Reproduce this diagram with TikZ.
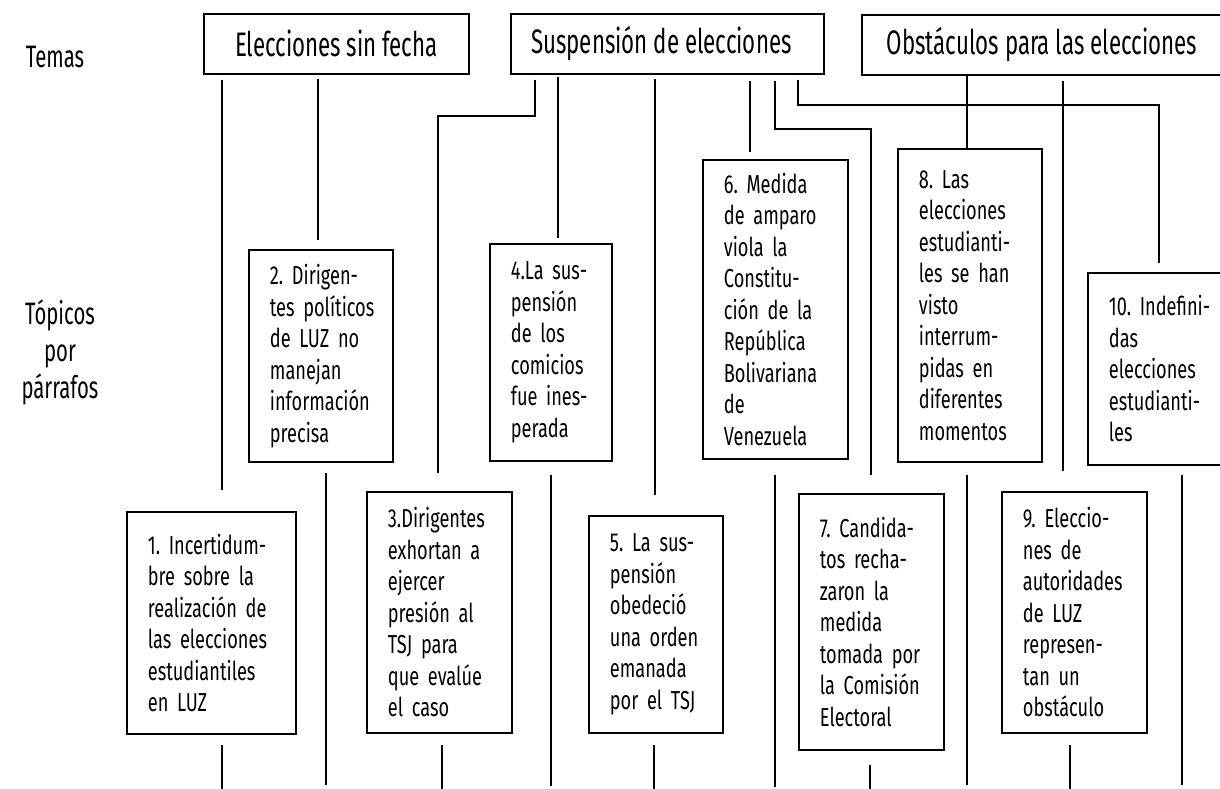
\documentclass[tikz,border=0pt]{standalone}
\usepackage{fontspec}
\setmainfont{Fira Sans}[FakeStretch=0.7]
\newfontfamily\themefont{Fira Sans}[FakeStretch=0.655]
\begin{document}
\begin{tikzpicture}[x=1pt,y=-1pt,
  conn/.style={line width=1.4pt},
  topicbox/.style={draw,line width=1.8pt,anchor=north west,inner xsep=21pt,inner ysep=0pt,
    align=left,font=\frenchspacing\fontsize{26}{31.5}\selectfont},
  themebox/.style={draw,line width=1.8pt,anchor=north west,inner sep=0pt,align=center,
    font=\themefont\fontsize{34}{36}\selectfont},
  sidelabel/.style={align=center,font=\themefont\fontsize{31}{37}\selectfont}]
\useasboundingbox (0,0) rectangle (1220,789);
\clip (0,0) rectangle (1220,789);
% side labels
\node[sidelabel] (temas) at (55,57) {Temas};
\node[sidelabel] (topicos) at (60,352) {Tópicos\\por\\párrafos};
% theme boxes
\node[themebox,minimum width=265pt,minimum height=60pt] (T1) at (203,13) {Elecciones sin fecha};
\node[themebox,minimum width=313pt,minimum height=60pt] (T2) at (510,13) {Suspensión de elecciones\hspace*{12pt}};
\node[themebox,minimum width=364pt,minimum height=60pt] (T3) at (861,14) {Obstáculos para las elecciones\hspace*{4pt}};
% topic boxes
\node[topicbox,text width=127pt,minimum height=222pt] (B1) at (126,511) {\mbox{1. Incertidum-}\\\mbox{bre sobre la}\\\mbox{realización de}\\\mbox{las elecciones}\\\mbox{estudiantiles}\\\mbox{en LUZ}};
\node[topicbox,text width=102pt,minimum height=212pt] (B2) at (248,249) {\mbox{2. Dirigen-}\\\mbox{tes políticos}\\\mbox{de LUZ no}\\\mbox{manejan}\\\mbox{información}\\\mbox{precisa}};
\node[topicbox,text width=103pt,minimum height=241pt] (B3) at (366,491) {\mbox{3.Dirigentes}\\\mbox{exhortan a}\\\mbox{ejercer}\\\mbox{presión al}\\\mbox{TSJ para}\\\mbox{que evalúe}\\\mbox{el caso}};
\node[topicbox,text width=80pt,minimum height=217pt] (B4) at (489,243) {\mbox{4.La sus-}\\\mbox{pensión}\\\mbox{de los}\\\mbox{comicios}\\\mbox{fue ines-}\\\mbox{perada}};
\node[topicbox,text width=92pt,minimum height=217pt] (B5) at (588,515) {\mbox{5. La sus-}\\\mbox{pensión}\\\mbox{obedeció}\\\mbox{una orden}\\\mbox{emanada}\\\mbox{por el TSJ}};
\node[topicbox,text width=103pt,minimum height=299pt] (B6) at (702,159) {\mbox{6. Medida}\\\mbox{de amparo}\\\mbox{viola la}\\\mbox{Constitu-}\\\mbox{ción de la}\\\mbox{República}\\\mbox{Bolivariana}\\\mbox{de}\\\mbox{Venezuela}};
\node[topicbox,text width=103pt,minimum height=256pt] (B7) at (798,493) {\mbox{7. Candida-}\\\mbox{tos recha-}\\\mbox{zaron la}\\\mbox{medida}\\\mbox{tomada por}\\\mbox{la Comisión}\\\mbox{Electoral}};
\node[topicbox,text width=102pt,minimum height=313pt] (B8) at (897,148) {\mbox{8. Las}\\\mbox{elecciones}\\\mbox{estudianti-}\\\mbox{les se han}\\\mbox{visto}\\\mbox{interrum-}\\\mbox{pidas en}\\\mbox{diferentes}\\\mbox{momentos}};
\node[topicbox,text width=103pt,minimum height=241pt] (B9) at (1001,491) {\mbox{9. Eleccio-}\\\mbox{nes de}\\\mbox{autoridades}\\\mbox{de LUZ}\\\mbox{represen-}\\\mbox{tan un}\\\mbox{obstáculo}};
\node[topicbox,text width=96pt,minimum height=192pt] (B10) at (1087,272) {\mbox{10. Indefini-}\\\mbox{das}\\\mbox{elecciones}\\\mbox{estudianti-}\\\mbox{les}};
% connectors from themes to topics
\draw[conn] ([yshift=-5pt]T1.south -| 222,0) -- ([yshift=21pt]B1.north -| 222,0);
\draw[conn] ([yshift=-4pt]T1.south -| 318,0) -- ([yshift=9pt]B2.north -| 318,0);
\draw[conn] ([yshift=-5pt]T2.south -| 535,0) |- (438,116) -- ([yshift=18pt]B3.north -| 438,0);
\draw[conn] ([yshift=-2pt]T2.south -| 558,0) -- ([yshift=5pt]B4.north -| 558,0);
\draw[conn] ([yshift=-4pt]T2.south -| 655,0) -- ([yshift=20pt]B5.north -| 655,0);
\draw[conn] ([yshift=-6pt]T2.south -| 750,0) -- ([yshift=7pt]B6.north -| 750,0);
\draw[conn] ([yshift=-6pt]T2.south -| 775,0) |- (871,129) -- ([yshift=18pt]B7.north -| 871,0);
\draw[conn] ([yshift=-5pt]T2.south -| 798,0) |- (1159,105) -- ([yshift=9pt]B10.north -| 1159,0);
\draw[conn] (T3.south -| 967,0) -- (B8.north -| 967,0);
\draw[conn] ([yshift=-5pt]T3.south -| 1063,0) -- ([yshift=20pt]B9.north -| 1063,0);
% stubs below topics
\draw[conn] ([yshift=-10pt]B1.south -| 222,0) -- ++(0,48);
\draw[conn] ([yshift=-10pt]B2.south -| 326,0) -- ++(0,312);
\draw[conn] ([yshift=-11pt]B3.south -| 442,0) -- ++(0,48);
\draw[conn] ([yshift=-13pt]B4.south -| 551,0) -- ++(0,311);
\draw[conn] ([yshift=-11pt]B5.south -| 654,0) -- ++(0,48);
\draw[conn] ([yshift=-15pt]B6.south -| 775,0) -- ++(0,312);
\draw[conn] ([yshift=-14pt]B7.south -| 870,0) -- ++(0,30);
\draw[conn] ([yshift=-12pt]B8.south -| 967,0) -- ++(0,310);
\draw[conn] ([yshift=-11pt]B9.south -| 1070,0) -- ++(0,48);
\draw[conn] ([yshift=-9pt]B10.south -| 1182,0) -- ++(0,310);
\end{tikzpicture}
\end{document}
